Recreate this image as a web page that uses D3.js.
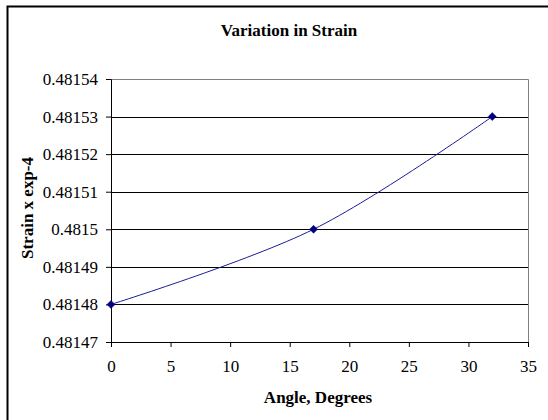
<!DOCTYPE html>
<html>
<head>
<meta charset="utf-8">
<script src="https://cdn.jsdelivr.net/npm/d3@7"></script>
<style>
  body { margin: 0; background: #fff; }
  text { font-family: "Liberation Serif", "Times New Roman", serif; }
</style>
</head>
<body>
<div id="chart"></div>
<script>
var svgWidth = 548;
var svgHeight = 420;

// data
var angles = [0, 17, 32];
var strains = [0.48148, 0.4815, 0.48153];
var yTicks = [0.48147, 0.48148, 0.48149, 0.4815, 0.48151, 0.48152, 0.48153, 0.48154];
var xTicks = [0, 5, 10, 15, 20, 25, 30, 35];

var margin = { top: 79, right: 20, bottom: 78, left: 111 };
var width = 528 - margin.left;
var height = 342 - margin.top;
var fontSize = 17;

var svg = d3.select("#chart")
  .append("svg")
  .attr("width", svgWidth)
  .attr("height", svgHeight);

// outer frame (right/bottom run off the picture)
svg.append("rect")
  .attr("x", 7.5)
  .attr("y", 6.5)
  .attr("width", 600)
  .attr("height", 500)
  .attr("fill", "none")
  .attr("stroke", "#000")
  .attr("stroke-width", 2);

var chartGroup = svg.append("g")
  .attr("transform", `translate(${margin.left}, ${margin.top})`);

var xLinearScale = d3.scaleLinear().domain([0, 35]).range([0, width]);
var yLinearScale = d3.scaleLinear().domain([0.48147, 0.48154]).range([height, 0]);

// plot area border top / right (grey)
chartGroup.append("path")
  .attr("d", `M0.5,0.5H${width + 0.5}V${height}`)
  .attr("fill", "none")
  .attr("stroke", "#808080")
  .attr("stroke-width", 1);

// horizontal gridlines
chartGroup.selectAll(".grid")
  .data(yTicks.slice(1, -1))
  .enter()
  .append("line")
  .attr("x1", 0)
  .attr("x2", width)
  .attr("y1", d => Math.round(yLinearScale(d)) + 0.5)
  .attr("y2", d => Math.round(yLinearScale(d)) + 0.5)
  .attr("stroke", "#000")
  .attr("stroke-width", 1);

// axes
var leftAxis = d3.axisLeft(yLinearScale)
  .tickValues(yTicks)
  .tickSize(5)
  .tickPadding(8)
  .tickFormat(d => String(+d.toFixed(5)));
var bottomAxis = d3.axisBottom(xLinearScale)
  .tickValues(xTicks)
  .tickSize(5)
  .tickPadding(13)
  .tickFormat(d3.format("d"));

var yAxis = chartGroup.append("g").call(leftAxis);
var xAxis = chartGroup.append("g")
  .attr("transform", `translate(0, ${height})`)
  .call(bottomAxis);

[yAxis, xAxis].forEach(function(ax) {
  ax.attr("font-family", null).attr("font-size", fontSize);
  ax.selectAll("text")
    .attr("font-size", fontSize)
    .attr("fill", "#000");
  ax.selectAll("line, path").attr("stroke", "#000");
});
yAxis.select(".domain").attr("d", `M-5,0.5H0.5V${height + 0.5}`);

// smoothed line
var line = d3.line()
  .x((d, i) => xLinearScale(angles[i]))
  .y(d => yLinearScale(d))
  .curve(d3.curveCatmullRom.alpha(0.5));

chartGroup.append("path")
  .datum(strains)
  .attr("d", line)
  .attr("fill", "none")
  .attr("stroke", "#1c1c96")
  .attr("stroke-width", 1);

// diamond markers
chartGroup.selectAll(".pt")
  .data(strains)
  .enter()
  .append("path")
  .attr("transform", (d, i) => `translate(${xLinearScale(angles[i])}, ${yLinearScale(d)})`)
  .attr("d", "M0,-4L4,0L0,4L-4,0Z")
  .attr("fill", "#000080")
  .attr("stroke", "#000080")
  .attr("stroke-width", 0.5);

// title
svg.append("text")
  .attr("x", 289)
  .attr("y", 36)
  .attr("text-anchor", "middle")
  .attr("font-weight", "bold")
  .attr("font-size", fontSize)
  .text("Variation in Strain");

// x axis label
svg.append("text")
  .attr("x", 318)
  .attr("y", 403)
  .attr("text-anchor", "middle")
  .attr("font-weight", "bold")
  .attr("font-size", fontSize)
  .text("Angle, Degrees");

// y axis label
svg.append("text")
  .attr("transform", "translate(33, 208) rotate(-90)")
  .attr("text-anchor", "middle")
  .attr("font-weight", "bold")
  .attr("font-size", fontSize)
  .text("Strain x exp-4");
</script>
</body>
</html>
